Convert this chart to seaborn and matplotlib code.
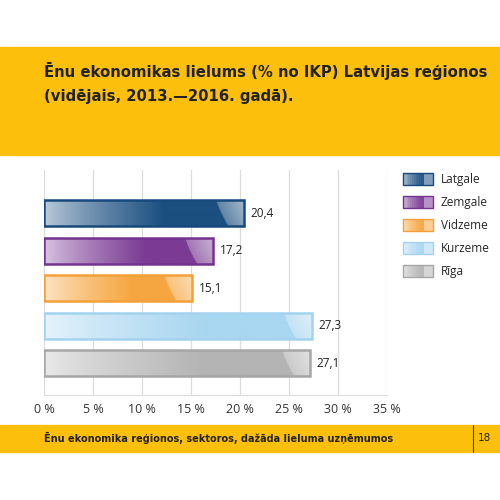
import numpy as np
import pandas as pd
import matplotlib
matplotlib.use("Agg")
import matplotlib.pyplot as plt
import seaborn as sns
from matplotlib.colors import to_rgb
from matplotlib.patches import Patch, Rectangle
from matplotlib.lines import Line2D
from matplotlib.legend_handler import HandlerBase

regions = ["Latgale", "Zemgale", "Vidzeme", "Kurzeme", "Rīga"]
values = [20.4, 17.2, 15.1, 27.3, 27.1]
base_colors = ["#1b4f80", "#7b3b94", "#f6a640", "#a9d6f0", "#b4b4b4"]
edge_colors = ["#174a7a", "#74338f", "#f4a03a", "#a3d2ef", "#a6a6a6"]
xticks = [0, 5, 10, 15, 20, 25, 30, 35]
xticklabels = ["0 %", "5 %", "10 %", "15 %", "20 %", "25 %", "30 %", "35 %"]
title = "Ēnu ekonomikas lielums (% no IKP) Latvijas reģionos\n(vidējais, 2013.—2016. gadā)."
footer = "Ēnu ekonomika reģionos, sektoros, dažāda lieluma uzņēmumos"
page = "18"

yellow = "#fcc00c"
sns.set_style("white")
plt.rcParams["font.family"] = ["Open Sans", "DejaVu Sans"]


def mix(c, t):
    c = np.array(to_rgb(c))
    return c + (1 - c) * t


class GradientHandler(HandlerBase):
    def create_artists(self, legend, orig_handle, xdescent, ydescent,
                       width, height, fontsize, trans):
        col = orig_handle.get_facecolor()[:3]
        ecol = orig_handle.get_edgecolor()[:3]
        arts = []
        n = 12
        body = width * 0.72
        for i in range(n):
            t = i / (n - 1)
            c = mix(col, 0.55 * (1 - t) ** 1.5 + 0.05)
            arts.append(Rectangle((-xdescent + body * i / n, -ydescent), body / n + 0.3, height,
                                  facecolor=c, edgecolor="none", transform=trans))
        arts.append(Rectangle((-xdescent + body, -ydescent), width - body, height,
                              facecolor=mix(col, 0.45), edgecolor="none", transform=trans))
        arts.append(Rectangle((-xdescent, -ydescent), width, height,
                              facecolor="none", edgecolor=ecol, lw=1.0, transform=trans))
        return arts


df = pd.DataFrame({"region": regions, "value": values})

fig = plt.figure(figsize=(5, 5), dpi=100)
fig.patches.append(Rectangle((0, 0.69), 1, 0.216, transform=fig.transFigure,
                             color=yellow, zorder=0))
fig.patches.append(Rectangle((0, 0.096), 1, 0.054, transform=fig.transFigure,
                             color=yellow, zorder=0))
fig.text(0.088, 0.877, title, fontsize=10.7, fontweight="bold", family="DejaVu Sans",
         color="#222222", va="top", ha="left", linespacing=1.75)
fig.text(0.088, 0.124, footer, fontsize=7.0, fontweight="bold", family="DejaVu Sans",
         color="#222222", va="center", ha="left")
fig.add_artist(Line2D([0.946, 0.946], [0.096, 0.15], transform=fig.transFigure,
                      color="#333333", lw=0.8))
fig.text(0.956, 0.124, page, fontsize=7.5, family="DejaVu Sans",
         color="#222222", va="center", ha="left")

ax = fig.add_axes([0.088, 0.21, 0.686, 0.45])
sns.barplot(data=df, x="value", y="region", hue="region", palette=base_colors,
            width=0.7, legend=False, ax=ax, saturation=1)

ax.set_xlim(0, 35)
ax.set_ylim(4.85, -1.15)

bars = [p for cont in ax.containers for p in cont.patches if p is not None]
for bar, col, ecol in zip(bars, base_colors, edge_colors):
    x0, y0 = bar.get_x(), bar.get_y()
    w, h = bar.get_width(), bar.get_height()
    nx, ny = 400, 40
    xs = np.linspace(0, w, nx)
    ys = np.linspace(0, 1, ny)
    light = mix(col, 0.72)
    dark = np.array(to_rgb(col))
    f = np.clip(xs / (0.6 * w), 0, 1) ** 0.8
    img = light[None, :] * (1 - f[:, None]) + dark[None, :] * f[:, None]
    img = np.repeat(img[None, :, :], ny, axis=0)
    start = w - 2.8 + 1.2 * ys[:, None] ** 1.3
    hl = xs[None, :] > start
    g = np.clip((xs[None, :] - start) / 2.4, 0, 1)
    hlcol = mix(col, 0.3)[None, None, :] * (1 - g[..., None]) + mix(col, 0.55)[None, None, :] * g[..., None]
    img = np.where(hl[..., None], hlcol, img)
    im = ax.imshow(img, extent=(x0, x0 + w, y0 + h, y0), aspect="auto",
                   interpolation="bilinear", zorder=2)
    im.set_clip_path(bar)
    bar.set_facecolor("none")
    bar.set_edgecolor(ecol)
    bar.set_linewidth(1.8)
    bar.set_zorder(3)

ax.set_xlim(0, 35)
ax.set_ylim(4.85, -1.15)

for cont in ax.containers:
    ax.bar_label(cont, fmt=lambda v: f"{v:.1f}".replace(".", ","),
                 padding=5, fontsize=8.5, color="#222222")

ax.set_xticks(xticks)
ax.set_xticklabels(xticklabels, fontsize=9, color="#333333")
ax.set_yticks([])
ax.set_xlabel("")
ax.set_ylabel("")
ax.grid(axis="x", color="#dcdcdc", lw=0.9)
ax.set_axisbelow(True)
for s in ["top", "right", "left"]:
    ax.spines[s].set_visible(False)
ax.spines["bottom"].set_color("#dcdcdc")
ax.tick_params(axis="x", length=0, pad=6)

handles = [Patch(facecolor=c, edgecolor=e) for c, e in zip(base_colors, edge_colors)]
fig.legend(handles, regions, loc="upper left", bbox_to_anchor=(0.785, 0.676),
           frameon=False, fontsize=8.5, handlelength=2.5, handleheight=1.2,
           labelspacing=0.85, handletextpad=0.7,
           handler_map={Patch: GradientHandler()})

fig.savefig("out.png", dpi=100)
